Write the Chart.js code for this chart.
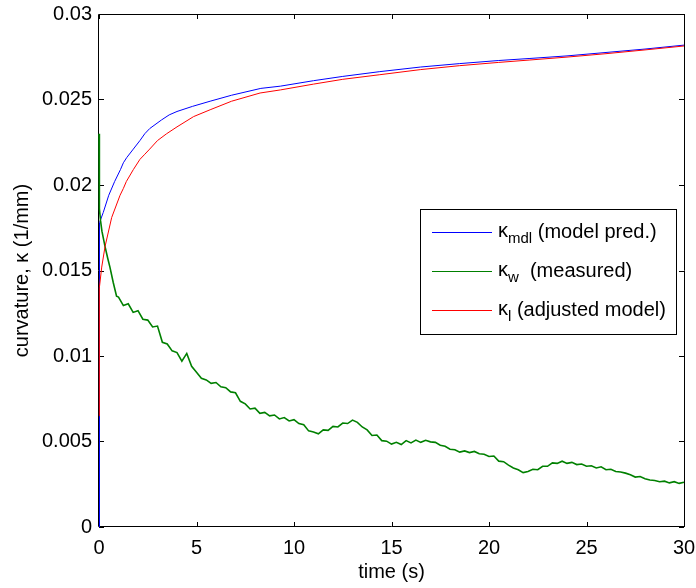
<!DOCTYPE html>
<html>
<head>
<meta charset="utf-8">
<script src="https://cdn.jsdelivr.net/npm/chart.js@4.4.0/dist/chart.umd.min.js"></script>
<style>
  html, body { margin: 0; padding: 0; background: #fff; }
  #myChart { display: block; }
</style>
</head>
<body>
<canvas id="myChart" width="696" height="588"></canvas>
<script>
const ctx = document.getElementById('myChart').getContext('2d');
const fontFamily = '"Liberation Sans", Arial, Helvetica, sans-serif';

// tick labels
const xTicks = [0, 5, 10, 15, 20, 25, 30];
const yTicks = [0, 0.005, 0.01, 0.015, 0.02, 0.025, 0.03];

// kappa_mdl (model pred.)
const blueTime = [0, 0, 0.05, 0.22, 0.5, 0.8, 1.1, 1.25, 1.42, 1.76, 2.1, 2.35, 2.6, 3.2, 3.6, 4.0, 4.8, 5.7, 6.8, 8.3, 9.3, 11, 12.5, 14.4, 16.5, 18.5, 20.5, 22.1, 24, 26, 28, 30];
const blueVal = [0, 0.0172, 0.0178, 0.0184, 0.0194, 0.0202, 0.0209, 0.0213, 0.0216, 0.0221, 0.0226, 0.0230, 0.0233, 0.0238, 0.0241, 0.0243, 0.0246, 0.0249, 0.02525, 0.02565, 0.02578, 0.0261, 0.02635, 0.02663, 0.0269, 0.0271, 0.02728, 0.0274, 0.02755, 0.02775, 0.02795, 0.02818];

// kappa_l (adjusted model)
const redTime = [0, 0.02, 0.14, 0.31, 0.65, 1.08, 1.25, 1.4, 1.76, 2.1, 2.35, 2.6, 3.0, 3.47, 4.0, 4.85, 5.7, 6.8, 8.26, 9.3, 11, 12.5, 14.4, 16.5, 18.5, 20.5, 22.1, 24, 26, 28, 30];
const redVal = [0.0065, 0.0140, 0.0152, 0.0164, 0.0181, 0.0194, 0.0198, 0.0202, 0.0209, 0.0215, 0.0218, 0.0221, 0.0226, 0.0230, 0.0234, 0.0240, 0.0244, 0.0249, 0.02538, 0.02556, 0.0259, 0.02618, 0.02645, 0.02675, 0.02698, 0.02717, 0.02731, 0.02748, 0.02768, 0.0279, 0.02813];

// kappa_w (measured)
const greenTime = [0, 0.02, 0.08, 0.15, 0.31, 0.45, 0.56, 0.73, 0.9,
  1.0, 1.25, 1.5, 1.75, 2.0, 2.25, 2.5, 2.75, 3.0, 3.25, 3.5, 3.75, 4.0, 4.25, 4.5, 4.75,
  5.0, 5.25, 5.5, 5.75, 6.0, 6.25, 6.5, 6.75, 7.0, 7.25, 7.5, 7.75, 8.0, 8.25, 8.5, 8.75,
  9.0, 9.25, 9.5, 9.75, 10.0, 10.25, 10.5, 10.75, 11.0, 11.25, 11.5, 11.75, 12.0, 12.25, 12.5, 12.75,
  13.0, 13.25, 13.5, 13.75, 14.0, 14.25, 14.5, 14.75, 15.0, 15.25, 15.5, 15.75, 16.0, 16.25, 16.5, 16.75,
  17.0, 17.25, 17.5, 17.75, 18.0, 18.25, 18.5, 18.75, 19.0, 19.25, 19.5, 19.75, 20.0, 20.25, 20.5, 20.75,
  21.0, 21.25, 21.5, 21.75, 22.0, 22.25, 22.5, 22.75, 23.0, 23.25, 23.5, 23.75, 24.0, 24.25, 24.5, 24.75,
  25.0, 25.25, 25.5, 25.75, 26.0, 26.25, 26.5, 26.75, 27.0, 27.25, 27.5, 27.75, 28.0, 28.25, 28.5, 28.75,
  29.0, 29.25, 29.5, 29.75, 30.0];
const greenVal = [0.0230, 0.0186, 0.0179, 0.0173, 0.0164, 0.0157, 0.0152, 0.0143, 0.0135,
  0.01345, 0.01295, 0.01305, 0.01255, 0.01265, 0.01215, 0.01210, 0.01170, 0.01175, 0.01080, 0.01070, 0.01030, 0.01020, 0.00970, 0.01015, 0.00940,
  0.00905, 0.00870, 0.00860, 0.00840, 0.00845, 0.00820, 0.00815, 0.00790, 0.00785, 0.00735, 0.00720, 0.00690, 0.00695, 0.00665, 0.00670, 0.00650,
  0.00655, 0.00632, 0.00640, 0.00620, 0.00628, 0.00605, 0.00598, 0.00562, 0.00555, 0.00545, 0.00568, 0.00565, 0.00588, 0.00585, 0.00608, 0.00605,
  0.00625, 0.00612, 0.00585, 0.00568, 0.00535, 0.00538, 0.00505, 0.00502, 0.00485, 0.00495, 0.00482, 0.00505, 0.00492, 0.00508, 0.00495, 0.00507,
  0.00498, 0.00495, 0.00478, 0.00472, 0.00455, 0.00452, 0.00438, 0.00445, 0.00435, 0.00442, 0.00428, 0.00425, 0.00412, 0.00415, 0.00385, 0.00382,
  0.00362, 0.00345, 0.00335, 0.00318, 0.00325, 0.00338, 0.00335, 0.00355, 0.00355, 0.00375, 0.00372, 0.00385, 0.00372, 0.00378, 0.00365, 0.00368,
  0.00355, 0.00358, 0.00345, 0.00352, 0.00335, 0.00338, 0.00325, 0.00322, 0.00315, 0.00305, 0.00292, 0.00295, 0.00282, 0.00275, 0.00272, 0.00265,
  0.00268, 0.00258, 0.00265, 0.00255, 0.00262];

const legendItems = [
  { color: '#0000ff', sub: 'mdl', rest: ' (model pred.)' },
  { color: '#008000', sub: 'w', rest: '  (measured)' },
  { color: '#ff0000', sub: 'l', rest: ' (adjusted model)' }
];

function toPoints(times, values) {
  return times.map((t, i) => ({ x: t, y: values[i] }));
}

// box round the plot with inward ticks on all four sides
const framePlugin = {
  id: 'frame',
  beforeDatasetsDraw(chart) {
    const { ctx, chartArea: a, scales } = chart;
    const len = 5;
    ctx.save();
    ctx.strokeStyle = '#000';
    ctx.lineWidth = 1;
    ctx.beginPath();
    ctx.rect(Math.round(a.left) - 0.5, Math.round(a.top) + 0.5, Math.round(a.right - a.left) + 1, Math.round(a.bottom - a.top) - 1);
    for (let i = 0; i < xTicks.length; i++) {
      const px = Math.round(scales.x.getPixelForValue(xTicks[i])) + 0.5;
      ctx.moveTo(px, a.bottom);
      ctx.lineTo(px, a.bottom - len);
      ctx.moveTo(px, a.top);
      ctx.lineTo(px, a.top + len);
    }
    for (let i = 0; i < yTicks.length; i++) {
      const py = Math.round(scales.y.getPixelForValue(yTicks[i])) + 0.5;
      ctx.moveTo(a.left, py);
      ctx.lineTo(a.left + len, py);
      ctx.moveTo(a.right, py);
      ctx.lineTo(a.right - len, py);
    }
    ctx.stroke();
    ctx.restore();
  }
};

// legend with subscripts, drawn by hand
const legendPlugin = {
  id: 'kappaLegend',
  afterDatasetsDraw(chart) {
    const c = chart.ctx;
    const box = { x: 420.5, y: 209.5, w: 256, h: 125 };
    c.save();
    c.fillStyle = '#fff';
    c.fillRect(box.x, box.y, box.w, box.h);
    c.strokeStyle = '#000';
    c.lineWidth = 1;
    c.strokeRect(box.x, box.y, box.w, box.h);
    c.textBaseline = 'alphabetic';
    c.textAlign = 'left';
    for (let i = 0; i < legendItems.length; i++) {
      const item = legendItems[i];
      const cy = 232 + i * 39;
      c.strokeStyle = item.color;
      c.beginPath();
      c.moveTo(432, cy + 0.5);
      c.lineTo(492, cy + 0.5);
      c.stroke();
      c.fillStyle = '#000';
      let tx = 498;
      c.font = '20px ' + fontFamily;
      c.fillText('κ', tx, cy + 5);
      tx += c.measureText('κ').width;
      c.font = '15px ' + fontFamily;
      c.fillText(item.sub, tx, cy + 11);
      tx += c.measureText(item.sub).width;
      c.font = '20px ' + fontFamily;
      c.fillText(item.rest, tx, cy + 6);
    }
    c.restore();
  }
};

const myChart = new Chart(ctx, {
  type: 'line',
  data: {
    datasets: [
      { label: 'κmdl (model pred.)', data: toPoints(blueTime, blueVal), borderColor: '#0000ff', borderWidth: 1, order: 2 },
      { label: 'κw (measured)', data: toPoints(greenTime, greenVal), borderColor: '#008000', borderWidth: 1.6, order: 1 },
      { label: 'κl (adjusted model)', data: toPoints(redTime, redVal), borderColor: '#ff0000', borderWidth: 1, order: 0 }
    ]
  },
  options: {
    responsive: false,
    devicePixelRatio: 1,
    animation: false,
    events: [],
    layout: { padding: { top: 14, right: 12, left: 0, bottom: 0 } },
    elements: {
      point: { radius: 0 },
      line: { tension: 0, fill: false }
    },
    datasets: { line: { clip: 4 } },
    plugins: {
      legend: { display: false },
      tooltip: { enabled: false }
    },
    scales: {
      x: {
        type: 'linear',
        min: 0,
        max: 30,
        afterFit: (scale) => {
          scale.height = 61;
          scale.paddingLeft = 0;
          scale.paddingRight = 0;
        },
        afterBuildTicks: (scale) => { scale.ticks = xTicks.map(v => ({ value: v })); },
        grid: { display: false, drawTicks: false },
        border: { display: false },
        ticks: {
          color: '#000',
          padding: 9,
          maxRotation: 0,
          font: { family: fontFamily, size: 20 },
          callback: (v) => String(v)
        },
        title: {
          display: true,
          text: 'time (s)',
          color: '#000',
          padding: { top: 0, bottom: 4 },
          font: { family: fontFamily, size: 20 }
        }
      },
      y: {
        type: 'linear',
        min: 0,
        max: 0.03,
        afterFit: (scale) => {
          scale.width = 99;
          scale.paddingTop = 0;
          scale.paddingBottom = 0;
        },
        afterBuildTicks: (scale) => { scale.ticks = yTicks.map(v => ({ value: v })); },
        grid: { display: false, drawTicks: false },
        border: { display: false },
        ticks: {
          color: '#000',
          padding: 7,
          font: { family: fontFamily, size: 20 },
          callback: (v) => String(Number(v.toFixed(3)))
        },
        title: {
          display: true,
          text: 'curvature, κ (1/mm)',
          color: '#000',
          padding: { top: 10, bottom: 0 },
          font: { family: fontFamily, size: 20 }
        }
      }
    }
  },
  plugins: [framePlugin, legendPlugin]
});
</script>
</body>
</html>
